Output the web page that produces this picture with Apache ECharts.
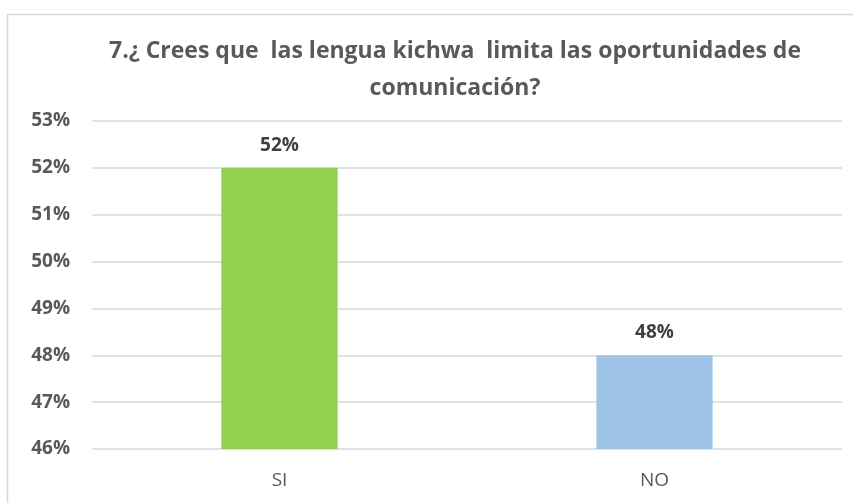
<!DOCTYPE html>
<html lang="es">
<head>
    <meta charset="UTF-8">
    <title>Kichwa</title>
    <style>
        html, body { margin: 0; padding: 0; background: #fff; }
        #chart { width: 853px; height: 503px; }
    </style>
</head>
<body>
    <div id="chart"></div>
    <script src="https://cdn.jsdelivr.net/npm/echarts@6/dist/echarts.min.js"></script>
    <script>
        // datos
        const categories = ['SI', 'NO'];
        const values = [52, 48];
        const barColors = ['#92D050', '#9DC3E6'];
        const yTicks = [46, 47, 48, 49, 50, 51, 52, 53];

        const chart = echarts.init(document.getElementById('chart'));
        const font = '"Open Sans", "Liberation Sans", sans-serif';

        chart.setOption({
            animation: false,
            graphic: [{
                type: 'rect',
                shape: { x: 7.5, y: 14.5, width: 860, height: 500 },
                style: { fill: 'none', stroke: '#d9d9d9', lineWidth: 1.5 }
            }],
            title: {
                text: '7.¿ Crees que  las lengua kichwa  limita las oportunidades de\ncomunicación?',
                left: 450,
                top: 28,
                textAlign: 'center',
                textStyle: {
                    fontFamily: font,
                    fontSize: 23,
                    fontWeight: 'bold',
                    color: '#595959',
                    lineHeight: 37
                }
            },
            grid: { left: 92, right: 11, top: 121, bottom: 54 },
            xAxis: {
                type: 'category',
                data: categories,
                axisLine: { show: false },
                axisTick: { show: false },
                axisLabel: {
                    margin: 22,
                    fontFamily: font,
                    fontSize: 19,
                    color: '#595959'
                }
            },
            yAxis: {
                type: 'value',
                min: yTicks[0],
                max: yTicks[yTicks.length - 1],
                interval: 1,
                axisLabel: {
                    margin: 22,
                    fontFamily: font,
                    fontSize: 19,
                    fontWeight: 'bold',
                    color: '#595959',
                    formatter: '{value}%'
                },
                splitLine: { lineStyle: { color: '#d9d9d9', width: 1.5 } }
            },
            series: [{
                type: 'bar',
                barWidth: '31%',
                data: values.map((v, i) => ({ value: v, itemStyle: { color: barColors[i] } })),
                label: {
                    show: true,
                    position: 'top',
                    distance: 13,
                    fontFamily: font,
                    fontSize: 19,
                    fontWeight: 'bold',
                    color: '#404040',
                    formatter: '{c}%'
                }
            }]
        });
    </script>
</body>
</html>
